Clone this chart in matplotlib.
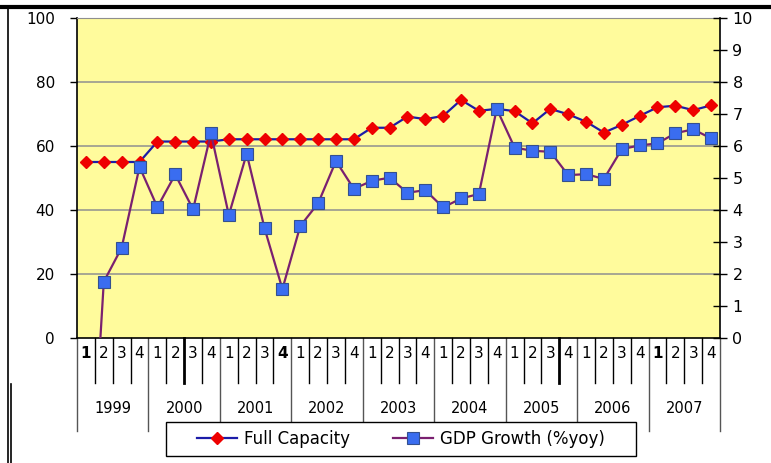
import matplotlib.pyplot as plt
from matplotlib.lines import Line2D
from matplotlib.patches import Rectangle

plt.rcParams['font.family'] = ['DejaVu Sans']

# quarterly data, 1999Q1 - 2007Q4
years = ['1999', '2000', '2001', '2002', '2003', '2004', '2005', '2006', '2007']
quarters = ['1', '2', '3', '4']
full_capacity = [55.0, 55.0, 55.0, 55.0,
                 61.4, 61.4, 61.4, 61.4,
                 62.1, 62.1, 62.1, 62.1,
                 62.1, 62.1, 62.1, 62.1,
                 65.7, 65.7, 69.2, 68.4,
                 69.4, 74.4, 71.0, 71.6,
                 70.9, 67.1, 71.6, 69.9,
                 67.6, 64.2, 66.6, 69.4,
                 72.1, 72.6, 71.2, 72.7]
gdp_growth = [-7.5, 1.76, 2.82, 5.35,
              4.09, 5.11, 4.02, 6.40,
              3.84, 5.76, 3.43, 1.53,
              3.50, 4.21, 5.53, 4.66,
              4.91, 5.01, 4.54, 4.62,
              4.08, 4.36, 4.50, 7.16,
              5.95, 5.85, 5.82, 5.09,
              5.12, 4.97, 5.90, 6.02,
              6.08, 6.40, 6.52, 6.24]

n = len(full_capacity)
x = list(range(n))

fig = plt.figure(figsize=(7.71, 4.63), dpi=100)
ax = fig.add_axes([77 / 771, 125 / 463, 643 / 771, 320 / 463])
ax.set_facecolor('#FFFB9C')

# left axis: full capacity
ax.set_ylim(0, 100)
ax.set_xlim(-0.5, n - 0.5)
ax.set_yticks([0, 20, 40, 60, 80, 100])
for g in [20, 40, 60, 80]:
    ax.axhline(g, color='#8f8f8f', lw=1.1, zorder=0)
ax.plot(x, full_capacity, color='#1c1ca8', lw=1.6, marker='D', ms=6,
        mfc='#ee0000', mec='#ee0000', zorder=3, label='Full Capacity')
ax.tick_params(axis='y', direction='out', length=5, width=1, labelsize=11, pad=11)
ax.set_xticks([])
for s in ['left', 'bottom']:
    ax.spines[s].set_linewidth(1.2)
ax.spines['top'].set_color('#8f8f8f')
ax.spines['right'].set_visible(False)

# right axis: GDP growth
ax2 = ax.twinx()
ax2.set_ylim(0, 10)
ax2.set_yticks(range(0, 11))
ax2.plot(x, gdp_growth, color='#7a2070', lw=1.6, marker='s', ms=8,
         mfc='#3a6df0', mec='#34508f', mew=0.8, zorder=4, label='GDP Growth (%yoy)')
ax2.tick_params(axis='y', direction='inout', length=10, width=1, labelsize=11.5, pad=4)
ax2.spines['right'].set_linewidth(1.2)
for s in ['left', 'top', 'bottom']:
    ax2.spines[s].set_visible(False)

# category axis: quarters and years
trans = ax.get_xaxis_transform()
thick = [6, 27]
for i in range(n + 1):
    if i % 4 == 0:
        ax.add_line(Line2D([i - 0.5, i - 0.5], [0, -0.29], transform=trans,
                           color='#555555', lw=1, clip_on=False))
    else:
        ax.add_line(Line2D([i - 0.5, i - 0.5], [0, -0.14], transform=trans,
                           color='black', lw=2 if i in thick else 1, clip_on=False))
bold = [0, 11, 32]
for i in range(n):
    ax.text(i, -0.048, quarters[i % 4], transform=trans, ha='center', va='center',
            fontsize=11, fontweight='bold' if i in bold else 'normal')
for j, yr in enumerate(years):
    ax.text(j * 4 + 1.5, -0.22, yr, transform=trans, ha='center', va='center',
            fontsize=10.5)

# legend: white box with black border, entries centred inside
fig.add_artist(Rectangle((166 / 771, 7 / 463), 470 / 771, 34 / 463,
                         transform=fig.transFigure, facecolor='white',
                         edgecolor='black', lw=1, zorder=4))
h1, l1 = ax.get_legend_handles_labels()
h2, l2 = ax2.get_legend_handles_labels()
leg = fig.legend(h1 + h2, l1 + l2, loc='center', ncol=2,
                 bbox_to_anchor=(401 / 771, 24 / 463),
                 fontsize=12, frameon=False, handlelength=2.4, handletextpad=0.4,
                 columnspacing=2.6, borderpad=0, borderaxespad=0)
leg.set_zorder(5)

# outer frame of the picture
fig.add_artist(Line2D([0, 1], [1 - 6.5 / 463] * 2, transform=fig.transFigure,
                      color='black', lw=3))
fig.add_artist(Line2D([8 / 771] * 2, [0, 1 - 6.5 / 463], transform=fig.transFigure,
                      color='black', lw=1.2))
fig.add_artist(Line2D([11 / 771] * 2, [0, 0.17], transform=fig.transFigure,
                      color='black', lw=1.2))

fig.savefig('out.png', dpi=100)
